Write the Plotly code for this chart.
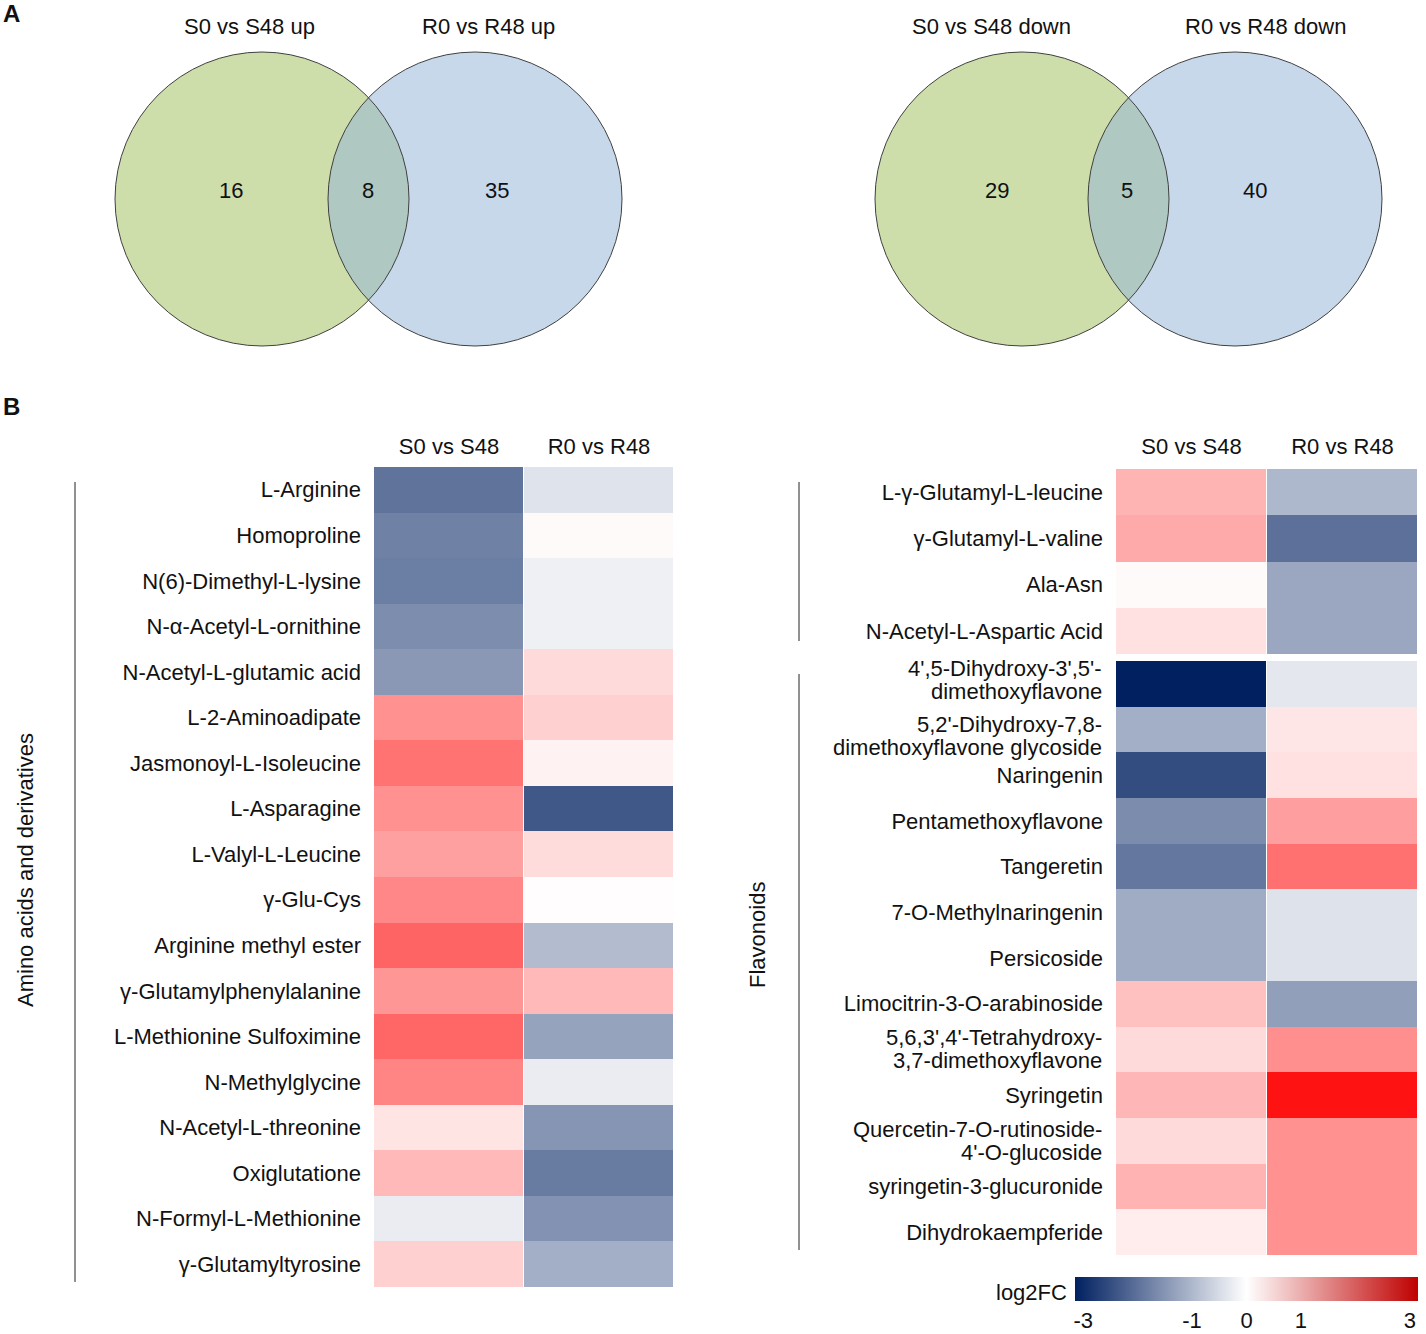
import plotly.graph_objects as go

# ---------------- data ----------------
comparisons = ["S0 vs S48", "R0 vs R48"]

amino_names = [
    "L-Arginine", "Homoproline", "N(6)-Dimethyl-L-lysine", "N-α-Acetyl-L-ornithine",
    "N-Acetyl-L-glutamic acid", "L-2-Aminoadipate", "Jasmonoyl-L-Isoleucine", "L-Asparagine",
    "L-Valyl-L-Leucine", "γ-Glu-Cys", "Arginine methyl ester", "γ-Glutamylphenylalanine",
    "L-Methionine Sulfoximine", "N-Methylglycine", "N-Acetyl-L-threonine", "Oxiglutatione",
    "N-Formyl-L-Methionine", "γ-Glutamyltyrosine",
]
amino_s = [-1.88, -1.70, -1.74, -1.53, -1.38, 1.29, 1.65, 1.29, 1.12, 1.41, 1.82, 1.24,
           1.80, 1.43, 0.32, 0.82, -0.25, 0.55]
amino_r = [-0.38, 0.06, -0.20, -0.20, 0.44, 0.55, 0.15, -2.25, 0.41, 0.02, -0.90, 0.82,
           -1.24, -0.25, -1.43, -1.78, -1.46, -1.08]

glut_names = ["L-γ-Glutamyl-L-leucine", "γ-Glutamyl-L-valine", "Ala-Asn", "N-Acetyl-L-Aspartic Acid"]
glut_s = [0.88, 1.00, 0.06, 0.35]
glut_r = [-0.95, -1.92, -1.18, -1.18]

flav_names = [
    "4',5-Dihydroxy-3',5'-<br>dimethoxyflavone",
    "5,2'-Dihydroxy-7,8-<br>dimethoxyflavone glycoside",
    "Naringenin", "Pentamethoxyflavone", "Tangeretin", "7-O-Methylnaringenin", "Persicoside",
    "Limocitrin-3-O-arabinoside",
    "5,6,3',4'-Tetrahydroxy-<br>3,7-dimethoxyflavone",
    "Syringetin",
    "Quercetin-7-O-rutinoside-<br>4'-O-glucoside",
    "syringetin-3-glucuronide", "Dihydrokaempferide",
]
flav_s = [-3.00, -1.08, -2.40, -1.55, -1.82, -1.12, -1.12, 0.74, 0.44, 0.86, 0.44, 0.90, 0.21]
flav_r = [-0.32, 0.29, 0.35, 1.14, 1.68, -0.39, -0.39, -1.29, 1.33, 2.79, 1.29, 1.29, 1.29]

venn_up_labels = ["S0 vs S48 up", "R0 vs R48 up"]
venn_up_counts = [16, 8, 35]
venn_down_labels = ["S0 vs S48 down", "R0 vs R48 down"]
venn_down_counts = [29, 5, 40]

cbar_ticks = [-3, -1, 0, 1, 3]
cbar_ticktext = ["-3", "-1", "0", "1", "3"]

# ---------------- layout helpers ----------------
W, H = 1426, 1334
FONT = "Liberation Sans, Arial, sans-serif"


def px(x):
    return x / W


def py(y):
    return 1 - y / H


def rows(a, b):
    return [[s, r] for s, r in zip(a, b)]


fig = go.Figure()

fig.add_trace(go.Heatmap(z=rows(amino_s, amino_r), x=comparisons, y=amino_names,
                         coloraxis="coloraxis", xgap=1, xaxis="x", yaxis="y"))
fig.add_trace(go.Heatmap(z=rows(glut_s, glut_r), x=comparisons, y=glut_names,
                         coloraxis="coloraxis", xgap=1, xaxis="x2", yaxis="y2"))
fig.add_trace(go.Heatmap(z=rows(flav_s, flav_r), x=comparisons, y=flav_names,
                         coloraxis="coloraxis", xgap=1, xaxis="x3", yaxis="y3"))
# invisible trace that only carries the legend colour bar
fig.add_trace(go.Heatmap(z=[[cbar_ticks[0], cbar_ticks[-1]]], coloraxis="coloraxis2",
                         xaxis="x4", yaxis="y4", opacity=0, hoverinfo="skip"))

tickfont = dict(family=FONT, size=22, color="#111111")
xcommon = dict(showgrid=False, zeroline=False, ticks="", showline=False, tickfont=tickfont)
ycommon = dict(showgrid=False, zeroline=False, ticks="", showline=False, tickfont=tickfont,
               autorange="reversed", ticklabelstandoff=12)

# multi-line flavonoid names are written as separate lines (tighter line spacing)
flav_ticktext = ["" if "<br>" in n else n for n in flav_names]

fig.update_layout(
    width=W, height=H,
    margin=dict(l=0, r=0, t=0, b=0),
    paper_bgcolor="white", plot_bgcolor="white",
    font=dict(family=FONT, size=22, color="#111111"),
    xaxis=dict(domain=[px(374), px(674)], anchor="y", side="top", ticklabelstandoff=8, **xcommon),
    yaxis=dict(domain=[py(1287), py(467)], anchor="x", **ycommon),
    xaxis2=dict(domain=[px(1116), px(1418)], anchor="y2", side="top", ticklabelstandoff=10, **xcommon),
    yaxis2=dict(domain=[py(654), py(469)], anchor="x2", **ycommon),
    xaxis3=dict(domain=[px(1116), px(1418)], anchor="y3", showticklabels=False, **xcommon),
    yaxis3=dict(domain=[py(1255), py(661)], anchor="x3", tickmode="array",
                tickvals=flav_names, ticktext=flav_ticktext, **ycommon),
    xaxis4=dict(domain=[0, 0.001], anchor="y4", visible=False),
    yaxis4=dict(domain=[0, 0.001], anchor="x4", visible=False),
    coloraxis=dict(cmin=-3, cmax=3,
                   colorscale=[[0, "#002060"], [0.5, "#ffffff"], [1, "#ff0000"]],
                   showscale=False),
    coloraxis2=dict(cmin=-3.15, cmax=3.15,
                    colorscale=[[0, "#002060"], [0.5, "#ffffff"], [1, "#c00000"]],
                    showscale=True,
                    colorbar=dict(orientation="h", x=px(1075), xanchor="left",
                                  y=py(1277), yanchor="top",
                                  len=343, lenmode="pixels", thickness=24, thicknessmode="pixels",
                                  xpad=0, ypad=0, outlinewidth=0, ticks="",
                                  tickvals=cbar_ticks, ticktext=cbar_ticktext,
                                  tickfont=tickfont)),
    showlegend=False,
)

shapes = []
annotations = []

# small vertical nudges (pixels) for the two-line names, as in the reference
line_nudge = {0: 3.5, 1: -6}
for idx, name in enumerate(flav_names):
    if "<br>" in name:
        parts = name.split("<br>")
        for i, part in enumerate(parts):
            annotations.append(dict(text=part, x=0, xref="x3 domain", y=name, yref="y3",
                                    xanchor="right", yanchor="middle", xshift=-12,
                                    yshift=11.5 - 23 * i + line_nudge.get(idx, 0),
                                    showarrow=False, font=dict(size=22)))

# bracket lines for the heatmap groups
for (x, y0, y1) in [(75, 482, 1282), (799, 482, 641), (799, 674, 1250)]:
    shapes.append(dict(type="line", xref="paper", yref="paper", x0=px(x), x1=px(x),
                       y0=py(y0), y1=py(y1), line=dict(color="#222222", width=1)))


def txt(text, x, y, size=22, angle=0, xanchor="center"):
    annotations.append(dict(text=text, x=px(x), y=py(y), xref="paper", yref="paper",
                            xanchor=xanchor, yanchor="middle", textangle=angle,
                            showarrow=False, font=dict(size=size)))


txt("Amino acids and derivatives", 25, 870, angle=-90)
txt("Flavonoids", 757, 935, angle=-90)
txt("log2FC", 1069, 1292, xanchor="right")
txt("<b>A</b>", 1, 14, size=24, xanchor="left")
txt("<b>B</b>", 1, 406, size=24, xanchor="left")

# Venn diagrams
R = 147
CY = 199
venns = [
    dict(cx=(262, 475), labels=venn_up_labels, counts=venn_up_counts,
         label_x=(249, 488), count_x=(231, 368, 497)),
    dict(cx=(1022, 1235), labels=venn_down_labels, counts=venn_down_counts,
         label_x=(991, 1265), count_x=(997, 1127, 1255)),
]
for v in venns:
    gx, bx = v["cx"]
    shapes.append(dict(type="circle", xref="paper", yref="paper", layer="below",
                       x0=px(gx - R), x1=px(gx + R), y0=py(CY + R), y1=py(CY - R),
                       fillcolor="rgb(205,222,170)", line=dict(width=0)))
    shapes.append(dict(type="circle", xref="paper", yref="paper", layer="below",
                       x0=px(bx - R), x1=px(bx + R), y0=py(CY + R), y1=py(CY - R),
                       fillcolor="rgb(149,180,217)", opacity=0.52, line=dict(width=0)))
    for cx in (gx, bx):
        shapes.append(dict(type="circle", xref="paper", yref="paper",
                           x0=px(cx - R), x1=px(cx + R), y0=py(CY + R), y1=py(CY - R),
                           line=dict(color="#404040", width=1)))
    for lab, lx in zip(v["labels"], v["label_x"]):
        txt(lab, lx, 26)
    for cnt, cxp in zip(v["counts"], v["count_x"]):
        txt(str(cnt), cxp, 190)

fig.update_layout(shapes=shapes, annotations=annotations)

fig.write_html("out.html", config={"displayModeBar": False},
               post_script="document.body.style.margin='0';")
